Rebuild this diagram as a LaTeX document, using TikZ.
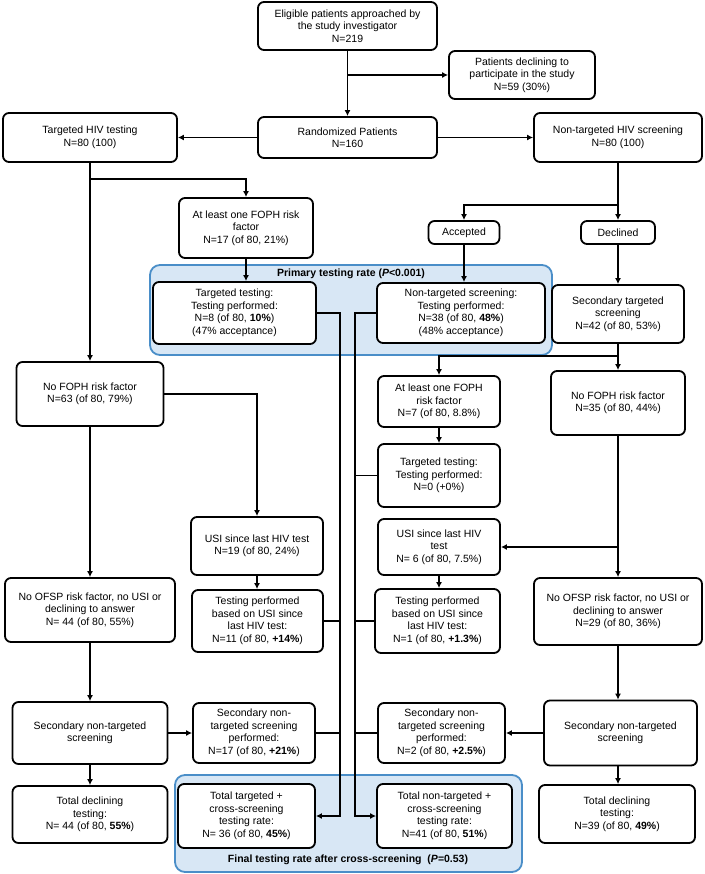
\documentclass[tikz,border=0pt]{standalone}
\usepackage{fontspec}
\setmainfont{Liberation Sans}
\usepackage{xcolor}
\definecolor{rateblue}{RGB}{74, 142, 200}
\definecolor{ratefill}{RGB}{216, 231, 245}
\usetikzlibrary{arrows.meta}

\begin{document}
\begin{tikzpicture}[x = 1pt, y = -1pt, font = \fontsize{10.5}{12.5}\selectfont,
                        box/.style = {draw, rounded corners = 6pt, line width = 1.8pt, fill = white, align = center, inner sep = 0pt},
                        arr/.style = {-{Latex[length = 6pt, width = 6pt]}, line width = 1.8pt},
                        link/.style = {line width = 1.8pt},
                        ratebox/.style = {draw = rateblue, fill = ratefill, rounded corners = 10pt, line width = 1.8pt}]
                        \useasboundingbox (0,0) rectangle (704,874);

                        \filldraw[ratebox] (150,265) rectangle (552,355);
                        \filldraw[ratebox] (175,775) rectangle (522,872);
                        \node (primlbl) at (351,274) {\textbf{Primary testing rate (\textit{P}<0.001)}};
                        \node (finallbl) at (348,860) {\textbf{Final testing rate after cross-screening\ \ (\textit{P}=0.53)}};

                        \node[box, minimum width = 179pt, minimum height = 48pt] (elig) at (347.5,26) {Eligible patients approached by\\ the study investigator\\ N=219};
                        \node[box, minimum width = 146pt, minimum height = 48pt] (decl) at (522,75) {Patients declining to\\ participate in the study\\ N=59 (30\%)};
                        \node[box, minimum width = 174pt, minimum height = 49pt] (targ) at (90,137.5) {Targeted HIV testing\\ N=80 (100)};
                        \node[box, minimum width = 179pt, minimum height = 41pt] (rand) at (347.5,137.5) {Randomized Patients\\ N=160};
                        \node[box, minimum width = 168pt, minimum height = 49pt] (nontarg) at (618,137.5) {Non-targeted HIV screening\\ N=80 (100)};

                        \node[box, minimum width = 134pt, minimum height = 60pt] (foph1) at (246,228) {At least one FOPH risk\\ factor\\ N=17 (of 80, 21\%)};
                        \node[box, minimum width = 71pt, minimum height = 23pt] (acc) at (464,232.5) {Accepted};
                        \node[box, minimum width = 74pt, minimum height = 23pt] (decd) at (618,232.5) {Declined};

                        \node[box, minimum width = 163pt, minimum height = 62pt] (ttest1) at (234.5,313) {Targeted testing:\\ Testing performed:\\ N=8 (of 80, \textbf{10\%})\\ (47\% acceptance)};
                        \node[box, minimum width = 168pt, minimum height = 60pt] (ntscr) at (461,313) {Non-targeted screening:\\ Testing performed:\\ N=38 (of 80, \textbf{48\%})\\ (48\% acceptance)};
                        \node[box, minimum width = 132pt, minimum height = 58pt] (sectarg) at (618,314) {Secondary targeted\\ screening\\ N=42 (of 80, 53\%)};

                        \node[box, minimum width = 147pt, minimum height = 64pt] (nofoph1) at (90,394) {No FOPH risk factor\\ N=63 (of 80, 79\%)};
                        \node[box, minimum width = 122pt, minimum height = 51pt] (foph2) at (439,401.5) {At least one FOPH\\ risk factor\\ N=7 (of 80, 8.8\%)};
                        \node[box, minimum width = 134pt, minimum height = 64pt] (nofoph2) at (618,403) {No FOPH risk factor\\ N=35 (of 80, 44\%)};
                        \node[box, minimum width = 122pt, minimum height = 63pt] (ttest2) at (439,475.5) {Targeted testing:\\ Testing performed:\\ N=0 (+0\%)};

                        \node[box, minimum width = 132pt, minimum height = 58pt] (usi1) at (257,546) {USI since last HIV test\\ N=19 (of 80, 24\%)};
                        \node[box, minimum width = 122pt, minimum height = 56pt] (usi2) at (439,547) {USI since last HIV\\ test\\ N= 6 (of 80, 7.5\%)};
                        \node[box, minimum width = 170pt, minimum height = 64pt] (noofsp1) at (90,610) {No OFSP risk factor, no USI or\\ declining to answer\\ N= 44 (of 80, 55\%)};
                        \node[box, minimum width = 168pt, minimum height = 67pt] (noofsp2) at (618,611.5) {No OFSP risk factor, no USI or\\ declining to answer\\ N=29 (of 80, 36\%)};
                        \node[box, minimum width = 131pt, minimum height = 62pt] (perf1) at (257.5,621) {Testing performed\\ based on USI since\\ last HIV test:\\ N=11 (of 80, \textbf{+14\%})};
                        \node[box, minimum width = 125pt, minimum height = 64pt] (perf2) at (437.5,621) {Testing performed\\ based on USI since\\ last HIV test:\\ N=1 (of 80, \textbf{+1.3\%})};

                        \node[box, minimum width = 155pt, minimum height = 62pt] (sec1) at (90,733) {Secondary non-targeted\\ screening};
                        \node[box, minimum width = 122pt, minimum height = 60pt] (secp1) at (254,733) {Secondary non-\\ targeted screening\\ performed:\\ N=17 (of 80, \textbf{+21\%})};
                        \node[box, minimum width = 127pt, minimum height = 60pt] (secp2) at (441.5,733) {Secondary non-\\ targeted screening\\ performed:\\ N=2 (of 80, \textbf{+2.5\%})};
                        \node[box, minimum width = 153pt, minimum height = 65pt] (sec2) at (620.5,733) {Secondary non-targeted\\ screening};

                        \node[box, minimum width = 155pt, minimum height = 57pt] (tot1) at (90,814.5) {Total declining\\ testing:\\ N= 44 (of 80, \textbf{55\%})};
                        \node[box, minimum width = 137pt, minimum height = 64pt] (totT) at (246.5,816) {Total targeted +\\ cross-screening\\ testing rate:\\ N= 36 (of 80, \textbf{45\%})};
                        \node[box, minimum width = 135pt, minimum height = 64pt] (totNT) at (444.5,816) {Total non-targeted +\\ cross-screening\\ testing rate:\\ N=41 (of 80, \textbf{51\%})};
                        \node[box, minimum width = 156pt, minimum height = 58pt] (tot2) at (617,814) {Total declining\\ testing:\\ N=39 (of 80, \textbf{49\%})};

                        \coordinate (tsplit) at (90,179);
                        \coordinate (nsplit) at (618,205);
                        \coordinate (ssplit) at (618,356);
                        \coordinate (usplit) at (618,547);
                        \coordinate (tline) at (340,0);
                        \coordinate (nline) at (355,0);

                        \draw[arr] (elig) -- (rand);
                        \draw[arr] (elig.south |- decl.west) -- (decl.west);
                        \draw[arr] (rand) -- (targ);
                        \draw[arr] (rand) -- (nontarg);

                        \draw[arr] (targ.south) -- (targ.south |- nofoph1.north);
                        \draw[arr] (tsplit) -| (foph1.north);
                        \draw[arr] (foph1.south) -- (foph1.south |- ttest1.north);
                        \draw[arr] (nofoph1.east) -| (usi1.north);
                        \draw[arr] (usi1.south) -- (usi1.south |- perf1.north);
                        \draw[arr] (nofoph1.south) -- (nofoph1.south |- noofsp1.north);
                        \draw[arr] (noofsp1.south) -- (noofsp1.south |- sec1.north);
                        \draw[arr] (sec1.east) -- (sec1.east -| secp1.west);
                        \draw[arr] (sec1.south) -- (sec1.south |- tot1.north);

                        \draw[arr] (nontarg.south) -- (nontarg.south |- decd.north);
                        \draw[arr] (nsplit) -| (acc.north);
                        \draw[arr] (acc.south) -- (acc.south |- ntscr.north);
                        \draw[arr] (decd.south) -- (decd.south |- sectarg.north);
                        \draw[arr] (sectarg.south) -- (sectarg.south |- nofoph2.north);
                        \draw[arr] (ssplit) -| (foph2.north);
                        \draw[arr] (foph2.south) -- (foph2.south |- ttest2.north);
                        \draw[arr] (nofoph2.south) -- (nofoph2.south |- noofsp2.north);
                        \draw[arr] (usplit) -- (usplit -| usi2.east);
                        \draw[arr] (usi2.south) -- (usi2.south |- perf2.north);
                        \draw[arr] (noofsp2.south) -- (noofsp2.south |- sec2.north);
                        \draw[arr] (sec2.west) -- (sec2.west -| secp2.east);
                        \draw[arr] (noofsp2.south |- sec2.south) -- (noofsp2.south |- tot2.north);

                        \draw[arr] (ttest1.east) -- (ttest1.east -| tline) -- (tline |- totT.east) -- (totT.east);
                        \draw[link] (perf1.east) -- (perf1.east -| tline);
                        \draw[link] (secp1.east) -- (secp1.east -| tline);
                        \draw[arr] (ntscr.west) -- (ntscr.west -| nline) -- (nline |- totNT.west) -- (totNT.west);
                        \draw[link] (ttest2.west) -- (ttest2.west -| nline);
                        \draw[link] (perf2.west) -- (perf2.west -| nline);
                        \draw[link] (secp2.west) -- (secp2.west -| nline);
                    \end{tikzpicture}
\end{document}
